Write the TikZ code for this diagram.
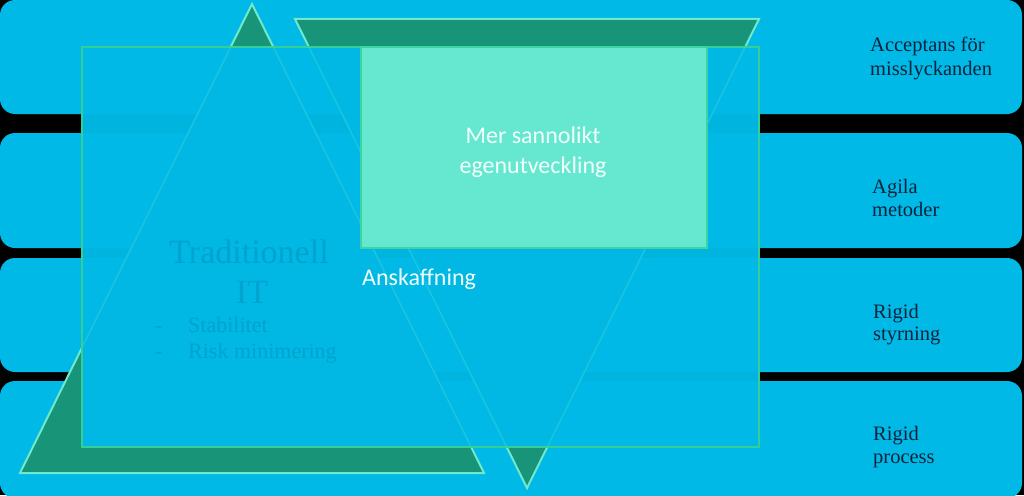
\documentclass[tikz,border=0pt]{standalone}
\usepackage{fontspec}
\setmainfont{Liberation Serif}
\newfontfamily\calib{Carlito}
\definecolor{bandblue}{RGB}{0,185,230}
\definecolor{trigreen}{RGB}{24,148,120}
\definecolor{triline}{RGB}{112,232,204}
\definecolor{rectgreen}{RGB}{52,206,150}
\definecolor{mintfill}{RGB}{102,232,208}
\definecolor{mintline}{RGB}{60,212,162}
\definecolor{navy}{RGB}{10,35,60}
\definecolor{fainttxt}{RGB}{0,162,208}
\definecolor{softwhite}{RGB}{240,255,252}
\begin{document}
\begin{tikzpicture}[x=1pt,y=-1pt,
  band/.style={fill=bandblue, rounded corners=15pt},
  tri/.style={fill=trigreen, draw=triline, line width=2pt, line join=miter},
  triglow/.style={draw=triline, line width=1.5pt, draw opacity=0.22},
  lbl/.style={anchor=base west, inner sep=0pt, text=navy, font=\fontsize{20.5}{23}\selectfont},
  wtxt/.style={inner sep=0pt, text=softwhite, font=\calib\fontsize{24}{29}\selectfont},
  tradbig/.style={inner sep=0pt, text=fainttxt, font=\fontsize{34}{40}\selectfont, anchor=base},
  tradsmall/.style={inner sep=0pt, text=fainttxt, font=\fontsize{22}{26}\selectfont, anchor=base west}
]
\useasboundingbox (0,0) rectangle (1024,495);
\fill[black] (0,0) rectangle (1024,495);
% bands
\fill[band] (0,0) rectangle (1022,114);
\fill[band] (0,133) rectangle (1022,248);
\fill[band] (0,258) rectangle (1022,372);
\fill[band] (0,381) rectangle (1022,498);
% triangles
\draw[tri] (252,4) -- (484,473) -- (20,473) -- cycle;
\draw[tri] (295,19) -- (759,19) -- (527,488) -- cycle;
% translucent frame
\draw[draw=rectgreen, line width=2pt, fill=bandblue, fill opacity=0.975] (82,47) rectangle (759,447);
% triangle edges glimpsed through the frame
\begin{scope}
  \clip (83,48) rectangle (758,446);
  \draw[triglow] (252,4) -- (484,473) -- (20,473) -- cycle;
  \draw[triglow] (295,19) -- (759,19) -- (527,488) -- cycle;
\end{scope}
% faint text of the upward triangle, seen through the frame
\node[tradbig] (trad) at (249,263) {Traditionell};
\node[tradbig] (it) at (252,303) {IT};
\node[tradsmall] (d1) at (155,332) {-};
\node[tradsmall] (stab) at (188,332) {Stabilitet};
\node[tradsmall] (d2) at (155,358) {-};
\node[tradsmall] (risk) at (188,358) {Risk minimering};
% mint box
\draw[draw=mintline, line width=2pt, fill=mintfill] (361,47) rectangle (707,248);
\node[wtxt, anchor=base] (mer1) at (533,143) {Mer sannolikt};
\node[wtxt, anchor=base] (mer2) at (533,173) {egenutveckling};
\node[wtxt, anchor=base west] (ansk) at (362,285) {Anskaffning};
% right labels
\node[lbl] (l1a) at (870,52) {Acceptans för};
\node[lbl] (l1b) at (870,75) {misslyckanden};
\node[lbl] (l2a) at (872,193) {Agila};
\node[lbl] (l2b) at (872,216) {metoder};
\node[lbl] (l3a) at (873,318) {Rigid};
\node[lbl] (l3b) at (873,340) {styrning};
\node[lbl] (l4a) at (873,440) {Rigid};
\node[lbl] (l4b) at (873,463) {process};
\end{tikzpicture}
\end{document}
